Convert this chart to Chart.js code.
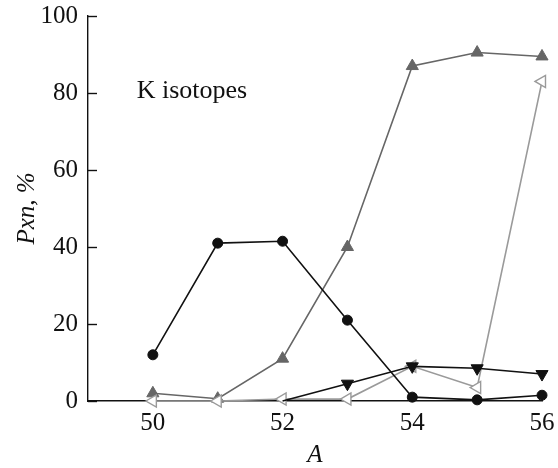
<!DOCTYPE html>
<html>
<head>
<meta charset="utf-8">
<script src="https://cdn.jsdelivr.net/npm/chart.js@4"></script>
<style>
  html, body { margin: 0; padding: 0; background: #fff; }
  #wrap { width: 558px; height: 468px; }
</style>
</head>
<body>
<div id="wrap"><canvas id="chart"></canvas></div>
<script>
// mass numbers
const MASS = [50, 51, 52, 53, 54, 55, 56]
const MASS_TICKS = [50, 52, 54, 56]
const P_TICKS = [0, 20, 40, 60, 80, 100]

// Pxn values, %
const P0N = [12, 41, 41.5, 21, 1, 0.3, 1.5]
const P1N = [2, 0.6, 11, 40, 87, 90.5, 89.5]
const P2N = [null, null, 0, 4.5, 9, 8.5, 7]
const P3N = [0, 0, 0.5, 0.5, 9, 3.5, 83]

const LABEL = 'K isotopes'
const FONT = "'Liberation Serif', 'Times New Roman', serif"

const toPoints = ys => MASS.map((x, i) => ({x, y: ys[i]}))

// y ticks are drawn inside the plot, not outside
const innerTicks = {
  id: 'innerTicks',
  afterDraw (chart) {
    const {ctx, scales: {x, y}} = chart
    ctx.save()
    ctx.strokeStyle = '#111'
    ctx.lineWidth = 1.4
    P_TICKS.forEach(v => {
      const py = Math.round(y.getPixelForValue(v)) + 0.5
      ctx.beginPath()
      ctx.moveTo(x.left, py)
      ctx.lineTo(x.left + 9, py)
      ctx.stroke()
    })
    ctx.fillStyle = '#111'
    ctx.font = '26px ' + FONT
    ctx.textBaseline = 'alphabetic'
    ctx.fillText(LABEL, x.getPixelForValue(49.75), y.getPixelForValue(78.7))
    ctx.restore()
  }
}

new Chart(document.getElementById('chart'), {
  type: 'line',
  data: {
    datasets: [
      {
        data: toPoints(P0N),
        borderColor: '#111',
        backgroundColor: '#111',
        borderWidth: 1.6,
        pointStyle: 'circle',
        pointRadius: 5,
        pointBorderWidth: 1
      },
      {
        data: toPoints(P2N),
        borderColor: '#111',
        backgroundColor: '#111',
        borderWidth: 1.6,
        pointStyle: 'triangle',
        pointRotation: 180,
        // the first point sits on the axis with no marker
        pointRadius: c => (c.raw && c.raw.y === 0 ? 0 : 7),
        pointBorderWidth: 1
      },
      {
        data: toPoints(P3N),
        borderColor: '#9a9a9a',
        backgroundColor: '#fff',
        borderWidth: 1.6,
        pointStyle: 'triangle',
        pointRotation: -90,
        pointRadius: 7,
        pointBorderWidth: 1.4
      },
      {
        data: toPoints(P1N),
        borderColor: '#666',
        backgroundColor: '#666',
        borderWidth: 1.6,
        pointStyle: 'triangle',
        pointRadius: 7,
        pointBorderWidth: 1
      }
    ]
  },
  options: {
    responsive: true,
    maintainAspectRatio: false,
    animation: false,
    clip: false,
    layout: { padding: { top: 16, right: 16, left: 0, bottom: 0 } },
    plugins: {
      legend: { display: false },
      tooltip: { enabled: false }
    },
    scales: {
      x: {
        type: 'linear',
        min: 49,
        max: 56,
        afterBuildTicks: s => { s.ticks = MASS_TICKS.map(v => ({value: v})) },
        afterFit: s => {
          s.height = 67
          s.paddingLeft = 0
          s.paddingRight = 0
        },
        grid: { display: true, drawOnChartArea: false, drawTicks: false },
        border: { display: true, color: '#111', width: 1.4 },
        ticks: { color: '#111', padding: 7, font: { family: FONT, size: 25 } },
        title: {
          display: true,
          text: 'A',
          color: '#111',
          padding: { top: 0, bottom: 0 },
          font: { family: FONT, size: 25, style: 'italic', lineHeight: 1 }
        }
      },
      y: {
        min: 0,
        max: 100,
        afterBuildTicks: s => { s.ticks = P_TICKS.map(v => ({value: v})) },
        afterFit: s => {
          s.width = 88
          s.paddingTop = 0
          s.paddingBottom = 0
        },
        grid: { display: true, drawOnChartArea: false, drawTicks: false },
        border: { display: true, color: '#111', width: 1.4 },
        ticks: { color: '#111', padding: 10, font: { family: FONT, size: 25 } },
        title: {
          display: true,
          text: 'Pxn, %',
          color: '#111',
          padding: { top: 12, bottom: 0 },
          font: { family: FONT, size: 25, style: 'italic', lineHeight: 1.2 }
        }
      }
    }
  },
  plugins: [innerTicks]
})
</script>
</body>
</html>
